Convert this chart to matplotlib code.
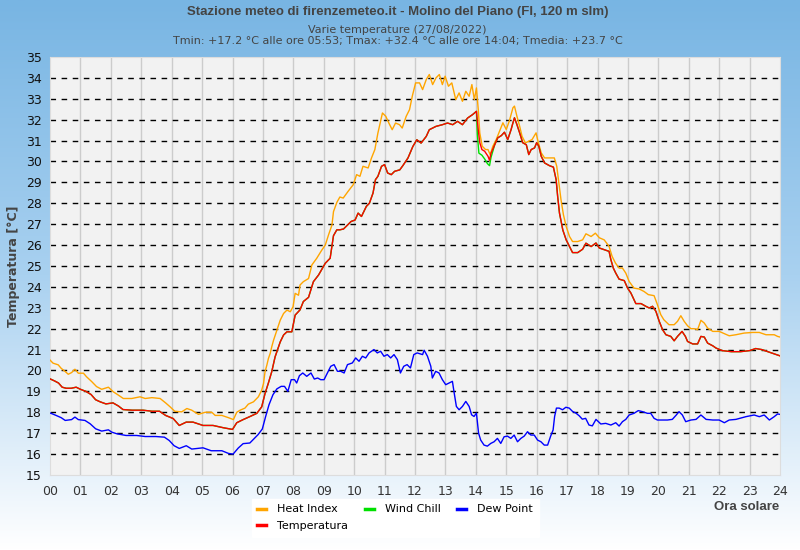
import numpy as np
import matplotlib.pyplot as plt
from matplotlib import font_manager
from matplotlib.colors import LinearSegmentedColormap

# Temperatura
temp_h = [0.0, 0.15, 0.28, 0.4, 0.53, 0.7, 0.86, 1.0, 1.18, 1.35, 1.5, 1.65, 1.84, 2.07, 2.25, 2.4, 2.7,
          3.06, 3.35, 3.6, 3.8, 4.05, 4.25, 4.48, 4.7, 5.03, 5.36, 5.7, 5.92, 6.0, 6.14, 6.35, 6.58, 6.8,
          6.96, 7.07, 7.18, 7.29, 7.4, 7.57, 7.68, 7.79, 7.95, 8.06, 8.22, 8.33, 8.5, 8.66, 8.83, 9.05,
          9.21, 9.32, 9.43, 9.53, 9.65, 9.81, 9.9, 10.03, 10.13, 10.24, 10.4, 10.5, 10.62, 10.7, 10.78,
          10.9, 11.0, 11.1, 11.22, 11.33, 11.5, 11.6, 11.77, 11.93, 12.06, 12.2, 12.37, 12.47, 12.69,
          12.9, 13.07, 13.24, 13.4, 13.56, 13.73, 13.89, 14.02, 14.08, 14.13, 14.2, 14.29, 14.4, 14.45,
          14.5, 14.62, 14.72, 14.84, 14.94, 15.05, 15.16, 15.22, 15.27, 15.35, 15.44, 15.54, 15.66,
          15.74, 15.82, 15.93, 16.0, 16.07, 16.15, 16.26, 16.42, 16.55, 16.64, 16.69, 16.75, 16.86,
          16.97, 17.08, 17.18, 17.35, 17.51, 17.62, 17.79, 17.95, 18.06, 18.22, 18.38, 18.44, 18.52,
          18.6, 18.71, 18.88, 18.99, 19.1, 19.26, 19.43, 19.59, 19.7, 19.81, 19.92, 20.03, 20.14,
          20.25, 20.41, 20.52, 20.63, 20.78, 20.89, 20.96, 21.13, 21.29, 21.4, 21.51, 21.62, 21.79,
          21.9, 22.1, 22.4, 22.7, 23.0, 23.2, 23.4, 23.6, 23.8, 24.0]
temp_v = [19.6, 19.5, 19.4, 19.2, 19.15, 19.15, 19.2, 19.1, 19.0, 18.85, 18.6, 18.5, 18.4, 18.45, 18.3,
          18.13, 18.1, 18.1, 18.05, 18.05, 17.85, 17.7, 17.37, 17.53, 17.53, 17.37, 17.37, 17.26, 17.2,
          17.18, 17.5, 17.65, 17.8, 17.95, 18.26, 18.9, 19.4, 19.94, 20.65, 21.37, 21.7, 21.85, 21.85,
          22.65, 22.9, 23.3, 23.5, 24.25, 24.57, 25.13, 25.37, 26.45, 26.73, 26.73, 26.77, 27.0, 27.13,
          27.2, 27.53, 27.37, 27.85, 28.0, 28.49, 29.13, 29.29, 29.77, 29.85, 29.45, 29.37, 29.53, 29.6,
          29.8, 30.17, 30.72, 31.04, 30.88, 31.2, 31.52, 31.68, 31.76, 31.84, 31.76, 31.92, 31.76,
          32.08, 32.24, 32.4, 31.5, 30.9, 30.57, 30.49, 30.25, 30.06, 30.4, 30.8, 31.13, 31.24, 31.4,
          31.05, 31.53, 31.85, 32.09, 31.77, 31.37, 30.9, 30.8, 30.33, 30.57, 30.65, 30.9, 30.73, 30.25,
          29.93, 29.8, 29.73, 29.13, 28.33, 27.53, 26.72, 26.25, 25.93, 25.64, 25.64, 25.8, 26.09,
          25.93, 26.1, 25.86, 25.78, 25.7, 25.3, 24.9, 24.66, 24.37, 24.3, 23.94, 23.7, 23.2, 23.2,
          23.07, 22.99, 23.07, 22.83, 22.35, 21.95, 21.71, 21.63, 21.42, 21.63, 21.87, 21.63, 21.39,
          21.27, 21.27, 21.63, 21.6, 21.31, 21.18, 21.07, 20.95, 20.9, 20.9, 20.95, 21.05, 21.0, 20.9,
          20.8, 20.7]

# Heat Index
heat_h = [0.0, 0.1, 0.27, 0.37, 0.5, 0.6, 0.71, 0.82, 0.93, 1.1, 1.2, 1.37, 1.53, 1.7, 1.92, 2.08, 2.25,
          2.41, 2.69, 2.96, 3.13, 3.35, 3.62, 3.8, 3.95, 4.1, 4.33, 4.5, 4.66, 4.88, 5.1, 5.32, 5.43,
          5.65, 5.87, 6.03, 6.14, 6.25, 6.41, 6.52, 6.69, 6.85, 6.96, 7.02, 7.07, 7.13, 7.18, 7.24, 7.29,
          7.35, 7.46, 7.57, 7.68, 7.79, 7.9, 7.99, 8.06, 8.17, 8.22, 8.33, 8.5, 8.61, 8.77, 8.94, 9.05,
          9.16, 9.27, 9.32, 9.43, 9.53, 9.64, 9.8, 9.97, 10.08, 10.19, 10.29, 10.46, 10.57, 10.68,
          10.78, 10.93, 11.04, 11.14, 11.25, 11.36, 11.49, 11.58, 11.71, 11.82, 11.91, 12.02, 12.15,
          12.25, 12.37, 12.47, 12.58, 12.69, 12.8, 12.9, 12.99, 13.1, 13.21, 13.34, 13.45, 13.56,
          13.67, 13.78, 13.87, 13.95, 14.02, 14.08, 14.13, 14.21, 14.32, 14.4, 14.47, 14.56, 14.67,
          14.78, 14.89, 15.0, 15.1, 15.22, 15.27, 15.35, 15.44, 15.52, 15.63, 15.74, 15.85, 15.98,
          16.03, 16.15, 16.26, 16.42, 16.58, 16.66, 16.73, 16.8, 16.88, 16.97, 17.08, 17.18, 17.35,
          17.51, 17.62, 17.79, 17.93, 18.06, 18.22, 18.38, 18.48, 18.59, 18.71, 18.82, 18.93, 19.04,
          19.2, 19.37, 19.53, 19.67, 19.86, 19.97, 20.08, 20.18, 20.35, 20.52, 20.63, 20.74, 20.85,
          20.96, 21.07, 21.18, 21.29, 21.4, 21.51, 21.62, 21.79, 22.0, 22.17, 22.33, 22.55, 22.82,
          23.1, 23.32, 23.54, 23.81, 23.92, 24.0]
heat_v = [20.5, 20.35, 20.27, 20.1, 19.95, 19.82, 19.9, 20.06, 19.87, 19.87, 19.7, 19.47, 19.23, 19.1,
          19.2, 18.98, 18.82, 18.66, 18.66, 18.74, 18.66, 18.7, 18.66, 18.45, 18.26, 18.05, 18.02,
          18.18, 18.1, 17.9, 18.0, 18.0, 17.85, 17.85, 17.74, 17.65, 18.0, 18.1, 18.2, 18.39, 18.5,
          18.74, 19.06, 19.38, 19.94, 20.26, 20.57, 20.82, 21.13, 21.45, 21.93, 22.41, 22.73, 22.89,
          22.81, 23.05, 23.69, 23.6, 24.09, 24.25, 24.4, 25.05, 25.37, 25.77, 26.0, 26.5, 26.96, 27.6,
          28.04, 28.3, 28.25, 28.57, 28.89, 29.37, 29.29, 29.77, 29.69, 30.17, 30.57, 31.36, 32.32,
          32.16, 31.84, 31.52, 31.84, 31.76, 31.6, 32.16, 32.48, 33.12, 33.76, 33.76, 33.44, 33.92,
          34.16, 33.68, 34.0, 34.16, 33.68, 34.08, 33.6, 33.76, 32.96, 33.28, 32.88, 33.36, 33.12,
          33.68, 32.96, 33.52, 32.48, 31.36, 30.73, 30.57, 30.57, 30.33, 30.73, 31.05, 31.45, 31.85,
          31.53, 31.93, 32.57, 32.65, 32.17, 31.69, 31.2, 30.89, 30.97, 31.05, 31.37, 31.05, 30.41,
          30.17, 30.17, 30.17, 29.77, 28.97, 28.17, 27.45, 26.89, 26.41, 26.17, 26.17, 26.25, 26.54,
          26.41, 26.57, 26.35, 26.25, 25.94, 25.46, 25.14, 24.9, 24.9, 24.66, 24.26, 23.94, 23.9,
          23.78, 23.63, 23.58, 23.15, 22.67, 22.43, 22.19, 22.19, 22.35, 22.62, 22.35, 22.14, 22.0,
          22.0, 21.95, 22.4, 22.27, 22.03, 21.87, 21.87, 21.76, 21.66, 21.71, 21.79, 21.82, 21.82,
          21.71, 21.71, 21.63, 21.6]

# Dew Point
dew_h = [0.0, 0.2, 0.37, 0.5, 0.71, 0.82, 0.93, 1.15, 1.32, 1.5, 1.7, 1.92, 2.03, 2.2, 2.5, 2.85, 3.13,
         3.48, 3.76, 3.92, 4.08, 4.25, 4.48, 4.66, 5.03, 5.3, 5.65, 5.87, 6.02, 6.19, 6.35, 6.57, 6.68,
         6.84, 6.98, 7.09, 7.2, 7.33, 7.46, 7.6, 7.71, 7.82, 7.93, 8.04, 8.11, 8.2, 8.31, 8.44, 8.58,
         8.69, 8.8, 8.9, 9.01, 9.12, 9.23, 9.34, 9.45, 9.56, 9.67, 9.78, 9.94, 10.05, 10.16, 10.27,
         10.38, 10.49, 10.65, 10.76, 10.87, 10.98, 11.09, 11.2, 11.31, 11.42, 11.52, 11.63, 11.74,
         11.85, 11.96, 12.07, 12.14, 12.25, 12.3, 12.41, 12.52, 12.57, 12.68, 12.79, 12.9, 13.01,
         13.12, 13.23, 13.28, 13.36, 13.45, 13.56, 13.67, 13.78, 13.86, 13.94, 14.02, 14.09, 14.16,
         14.27, 14.38, 14.49, 14.6, 14.71, 14.82, 14.93, 15.04, 15.15, 15.26, 15.37, 15.48, 15.59,
         15.7, 15.81, 15.92, 16.03, 16.14, 16.25, 16.36, 16.46, 16.54, 16.59, 16.65, 16.74, 16.85,
         16.96, 17.07, 17.18, 17.29, 17.4, 17.5, 17.61, 17.72, 17.83, 17.95, 18.11, 18.27, 18.44,
         18.6, 18.71, 18.82, 18.93, 19.04, 19.2, 19.34, 19.48, 19.64, 19.75, 19.86, 19.97, 20.3,
         20.46, 20.59, 20.68, 20.79, 20.9, 21.07, 21.24, 21.4, 21.57, 21.79, 22.0, 22.17, 22.33,
         22.55, 22.88, 23.15, 23.32, 23.48, 23.65, 23.81, 23.92, 24.0]
dew_v = [17.97, 17.85, 17.74, 17.61, 17.65, 17.77, 17.65, 17.61, 17.45, 17.21, 17.1, 17.16, 17.05,
         16.97, 16.89, 16.89, 16.84, 16.84, 16.81, 16.65, 16.4, 16.27, 16.4, 16.24, 16.3, 16.16,
         16.16, 16.03, 16.0, 16.29, 16.5, 16.53, 16.69, 16.93, 17.2, 17.8, 18.36, 18.84, 19.12, 19.24,
         19.24, 19.0, 19.56, 19.56, 19.4, 19.75, 19.88, 19.72, 19.88, 19.59, 19.64, 19.56, 19.56,
         19.88, 20.2, 20.28, 19.96, 19.96, 19.88, 20.28, 20.36, 20.6, 20.44, 20.68, 20.6, 20.84, 21.0,
         20.84, 20.92, 20.68, 20.76, 20.6, 20.76, 20.52, 19.88, 20.2, 20.28, 20.12, 20.76, 20.84,
         20.81, 20.76, 20.97, 20.68, 20.2, 19.64, 19.96, 19.88, 19.56, 19.32, 19.4, 19.48, 19.0,
         18.28, 18.12, 18.28, 18.52, 18.28, 17.88, 17.8, 17.96, 17.0, 16.67, 16.43, 16.38, 16.51,
         16.59, 16.75, 16.51, 16.83, 16.86, 16.75, 16.91, 16.59, 16.75, 16.86, 17.07, 16.91, 16.91,
         16.67, 16.59, 16.43, 16.43, 16.86, 17.15, 17.8, 18.2, 18.2, 18.12, 18.24, 18.2, 18.04,
         17.96, 17.83, 17.67, 17.71, 17.39, 17.35, 17.66, 17.44, 17.47, 17.39, 17.5, 17.34, 17.55,
         17.66, 17.87, 17.95, 18.08, 18.03, 17.95, 17.95, 17.71, 17.63, 17.63, 17.66, 17.87, 18.03,
         17.87, 17.55, 17.63, 17.66, 17.87, 17.66, 17.63, 17.63, 17.5, 17.63, 17.66, 17.79, 17.87,
         17.79, 17.87, 17.63, 17.79, 17.92, 17.9]

# Wind Chill: equal to temperature except where it drops below it
wc_h = [14.05, 14.1, 14.2, 14.3, 14.38, 14.45, 14.5, 14.58]
wc_v = [31.3, 30.4, 30.3, 30.1, 29.9, 29.8, 30.2, 30.6]

hour_labels = ['%02d' % h for h in range(25)]

# condensed font for title, if there is one
names = {f.name for f in font_manager.fontManager.ttflist}
narrow = 'Liberation Sans Narrow' if 'Liberation Sans Narrow' in names else 'Liberation Sans'
title_size = 10 if narrow == 'Liberation Sans Narrow' else 9.5

fig = plt.figure(figsize=(8, 5.5), dpi=100)

# background gradient
bg = fig.add_axes([0, 0, 1, 1], zorder=-10)
cmap = LinearSegmentedColormap.from_list('bg', ['#78b5e3', '#a9d1f0', '#ffffff'])
bg.imshow(np.linspace(0, 1, 256).reshape(-1, 1), aspect='auto', cmap=cmap, extent=[0, 1, 0, 1])
bg.set_axis_off()

ax = fig.add_axes([0.0625, 0.1364, 0.9125, 0.76])
ax.set_facecolor('#f2f2f2')

th = np.array(temp_h)
tv = np.array(temp_v)
keep = (th < wc_h[0]) | (th > wc_h[-1])
wind_h = np.concatenate([th[keep], wc_h])
wind_v = np.concatenate([tv[keep], wc_v])
order = np.argsort(wind_h)

lw = 1.0
ax.plot(heat_h, heat_v, color='#ffa500', lw=lw, label='Heat Index', zorder=3)
ax.plot(wind_h[order], wind_v[order], color='#00e000', lw=lw, label='Wind Chill', zorder=4)
ax.plot(temp_h, temp_v, color='#ff0000', lw=lw, label='Temperatura', zorder=5)
ax.plot(dew_h, dew_v, color='#0000ff', lw=lw, label='Dew Point', zorder=6)

ax.set_xlim(0, 24)
ax.set_ylim(15, 35)
ax.set_xticks(range(25))
ax.set_xticklabels(hour_labels, fontsize=9, color='#333333')
ax.set_yticks(range(15, 36))
ax.tick_params(axis='y', labelsize=9, colors='#111111', length=0, pad=6)
ax.tick_params(axis='x', length=0, pad=7)

for h in range(1, 24):
    ax.axvline(h, color='#cccccc', lw=1, zorder=1)
for t in range(16, 35):
    ax.axhline(t, color='black', lw=1, ls=(0, (4, 4)), zorder=2)
for s in ax.spines.values():
    s.set_color('#dddddd')

ax.set_ylabel('Temperatura [°C]', fontsize=9, fontweight='bold', color='#444444', labelpad=4)

fig.text(0.497, 0.979, 'Stazione meteo di firenzemeteo.it - Molino del Piano (FI, 120 m slm)',
         ha='center', va='center', fontsize=title_size, fontweight='bold', color='#444444',
         family=narrow)
fig.text(0.497, 0.945, 'Varie temperature (27/08/2022)', ha='center', va='center',
         fontsize=8, color='#444444')
fig.text(0.497, 0.925, 'Tmin: +17.2 °C alle ore 05:53; Tmax: +32.4 °C alle ore 14:04; Tmedia: +23.7 °C',
         ha='center', va='center', fontsize=8, color='#444444')
fig.text(0.974, 0.078, 'Ora solare', ha='right', va='center', fontsize=title_size, fontweight='bold',
         color='#444444', family=narrow)

handles, labels = ax.get_legend_handles_labels()
idx = [labels.index(n) for n in ['Heat Index', 'Temperatura', 'Wind Chill', 'Dew Point']]
leg = fig.legend([handles[i] for i in idx], [labels[i] for i in idx], ncol=3,
                 loc='upper center', bbox_to_anchor=(0.494, 0.103), fontsize=8,
                 frameon=True, fancybox=False, handlelength=0.8, handletextpad=1.0,
                 columnspacing=1.5, borderpad=0.5, labelspacing=0.6)
leg.get_frame().set_facecolor('white')
leg.get_frame().set_edgecolor('white')
leg.get_frame().set_alpha(1)
for line in leg.get_lines():
    line.set_linewidth(2.5)

plt.savefig('out.png', dpi=100)
